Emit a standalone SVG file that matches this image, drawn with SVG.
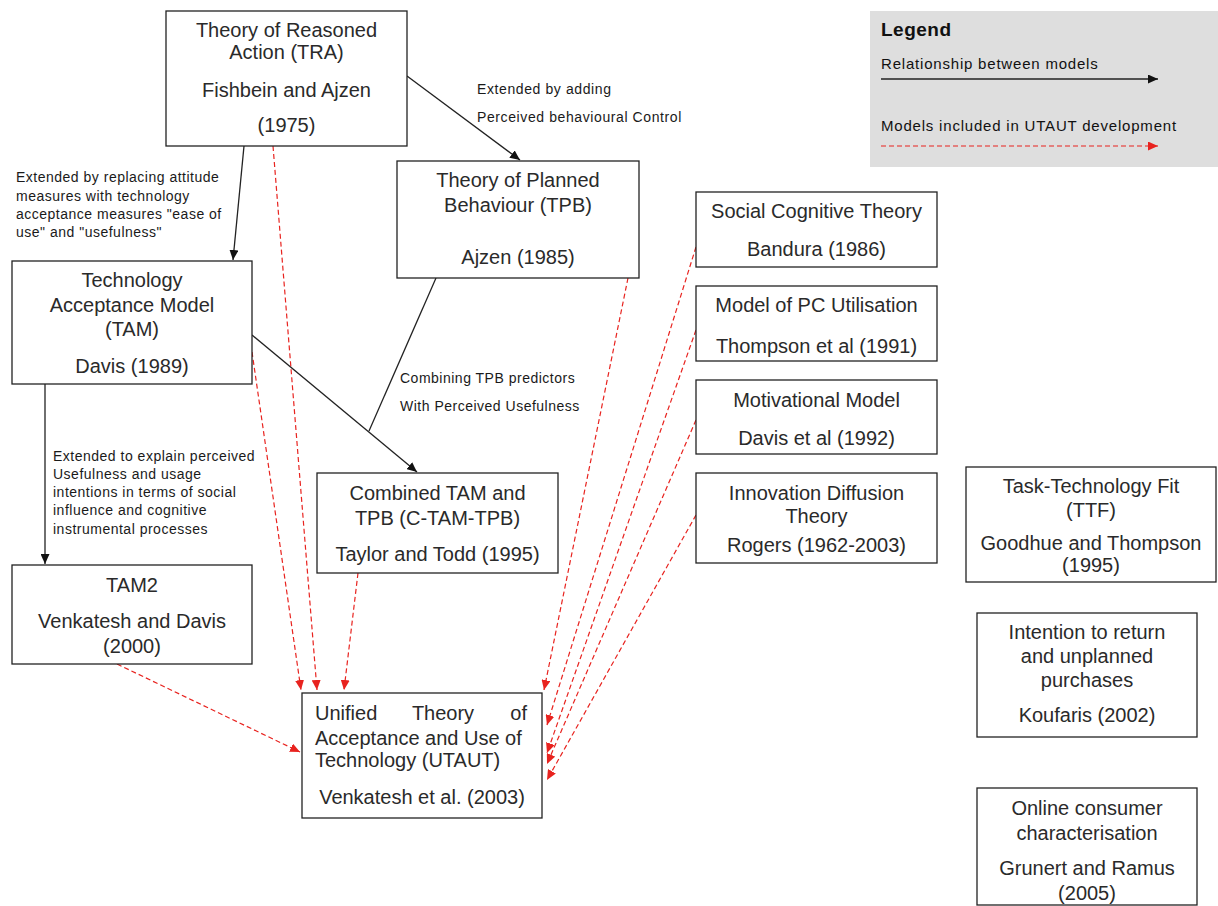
<svg xmlns="http://www.w3.org/2000/svg" width="1218" height="906" viewBox="0 0 1218 906">
<style>
.box{fill:#fff;stroke:#222;stroke-width:1.3}
.t{font-family:"Liberation Sans",Arial,sans-serif;font-size:20px;fill:#2a2a2a;text-anchor:middle}
.l{font-family:"Liberation Sans",Arial,sans-serif;font-size:14px;fill:#1a1a1a;letter-spacing:0.5px}
.lg{font-family:"Liberation Sans",Arial,sans-serif;font-size:15px;fill:#111;letter-spacing:0.8px}
.blk{stroke:#222;stroke-width:1.3;fill:none}
.red{stroke:#e8231f;stroke-width:1.2;fill:none;stroke-dasharray:5 3}
</style>
<defs>
<marker id="ab" markerUnits="userSpaceOnUse" markerWidth="11" markerHeight="9" refX="10" refY="4.5" orient="auto"><path d="M0,0 L10,4.5 L0,9 z" fill="#111"/></marker>
<marker id="ar" markerUnits="userSpaceOnUse" markerWidth="11" markerHeight="9" refX="10" refY="4.5" orient="auto"><path d="M0,0 L10,4.5 L0,9 z" fill="#e8231f"/></marker>
</defs>
<rect width="1218" height="906" fill="#fff"/>

<g id="legend">
<rect x="870" y="11" width="348" height="156" fill="#dedede"/>
<text x="881" y="36" style="font-family:'Liberation Sans',Arial,sans-serif;font-size:19px;font-weight:bold;fill:#111;letter-spacing:0.5px">Legend</text>
<text class="lg" x="881" y="69">Relationship between models</text>
<line class="blk" x1="881" y1="79" x2="1158" y2="79" marker-end="url(#ab)"/>
<text class="lg" x="881" y="131">Models included in UTAUT development</text>
<line class="red" x1="881" y1="146" x2="1158" y2="146" marker-end="url(#ar)"/>
</g>

<g id="connectors">
<line class="blk" x1="244" y1="146" x2="233" y2="260" marker-end="url(#ab)"/>
<line class="blk" x1="407" y1="76" x2="520" y2="160" marker-end="url(#ab)"/>
<line class="blk" x1="45" y1="384" x2="45" y2="564" marker-end="url(#ab)"/>
<line class="blk" x1="252" y1="335" x2="417" y2="472" marker-end="url(#ab)"/>
<line class="blk" x1="436" y1="278" x2="369" y2="431"/>
<line class="red" x1="252" y1="352" x2="301" y2="690" marker-end="url(#ar)"/>
<line class="red" x1="273" y1="146" x2="317" y2="690" marker-end="url(#ar)"/>
<line class="red" x1="358" y1="573" x2="344" y2="690" marker-end="url(#ar)"/>
<line class="red" x1="628" y1="278" x2="544" y2="690" marker-end="url(#ar)"/>
<line class="red" x1="696" y1="247" x2="547" y2="725" marker-end="url(#ar)"/>
<line class="red" x1="696" y1="330" x2="547" y2="753" marker-end="url(#ar)"/>
<line class="red" x1="696" y1="420" x2="547" y2="764" marker-end="url(#ar)"/>
<line class="red" x1="696" y1="515" x2="547" y2="780" marker-end="url(#ar)"/>
<line class="red" x1="117" y1="664" x2="300" y2="752" marker-end="url(#ar)"/>
<text class="l" x="477" y="94" style="letter-spacing:0.6px">Extended by adding</text>
<text class="l" x="477" y="122" style="letter-spacing:0.6px">Perceived behavioural Control</text>
<text class="l" x="16" y="182">Extended by replacing attitude</text>
<text class="l" x="16" y="201">measures with technology</text>
<text class="l" x="16" y="219">acceptance measures "ease of</text>
<text class="l" x="16" y="237">use" and "usefulness"</text>
<text class="l" x="53" y="461">Extended to explain perceived</text>
<text class="l" x="53" y="479">Usefulness and usage</text>
<text class="l" x="53" y="497">intentions in terms of social</text>
<text class="l" x="53" y="515">influence and cognitive</text>
<text class="l" x="53" y="534">instrumental processes</text>
<text class="l" x="400" y="383">Combining TPB predictors</text>
<text class="l" x="400" y="411">With Perceived Usefulness</text>
</g>

<g id="tra">
<rect class="box" x="166" y="11" width="241" height="135"/>
<text class="t" x="286.5" y="37">Theory of Reasoned</text>
<text class="t" x="286.5" y="59">Action (TRA)</text>
<text class="t" x="286.5" y="97">Fishbein and Ajzen</text>
<text class="t" x="286.5" y="132">(1975)</text>
</g>

<g id="tpb">
<rect class="box" x="397" y="161" width="242" height="117"/>
<text class="t" x="518" y="187">Theory of Planned</text>
<text class="t" x="518" y="212">Behaviour (TPB)</text>
<text class="t" x="518" y="264">Ajzen (1985)</text>
</g>

<g id="tam">
<rect class="box" x="12" y="261" width="240" height="123"/>
<text class="t" x="132" y="287">Technology</text>
<text class="t" x="132" y="312">Acceptance Model</text>
<text class="t" x="132" y="336">(TAM)</text>
<text class="t" x="132" y="373">Davis (1989)</text>
</g>

<g id="ctamtpb">
<rect class="box" x="317" y="473" width="241" height="100"/>
<text class="t" x="437.5" y="500">Combined TAM and</text>
<text class="t" x="437.5" y="525">TPB (C-TAM-TPB)</text>
<text class="t" x="437.5" y="561">Taylor and Todd (1995)</text>
</g>

<g id="tam2">
<rect class="box" x="12" y="565" width="240" height="99"/>
<text class="t" x="132" y="592">TAM2</text>
<text class="t" x="132" y="628">Venkatesh and Davis</text>
<text class="t" x="132" y="653">(2000)</text>
</g>

<g id="utaut">
<rect class="box" x="302" y="693" width="240" height="125"/>
<text class="t" x="315" y="720" style="text-anchor:start">Unified</text>
<text class="t" x="443" y="720">Theory</text>
<text class="t" x="527" y="720" style="text-anchor:end">of</text>
<text class="t" x="315" y="745" style="text-anchor:start">Acceptance and Use of</text>
<text class="t" x="315" y="767" style="text-anchor:start">Technology (UTAUT)</text>
<text class="t" x="422" y="804">Venkatesh et al. (2003)</text>
</g>

<g id="sct">
<rect class="box" x="696" y="192" width="241" height="75"/>
<text class="t" x="816.5" y="218">Social Cognitive Theory</text>
<text class="t" x="816.5" y="256">Bandura (1986)</text>
</g>

<g id="mpcu">
<rect class="box" x="696" y="286" width="241" height="75"/>
<text class="t" x="816.5" y="312">Model of PC Utilisation</text>
<text class="t" x="816.5" y="353">Thompson et al (1991)</text>
</g>

<g id="mm">
<rect class="box" x="696" y="380" width="241" height="74"/>
<text class="t" x="816.5" y="407">Motivational Model</text>
<text class="t" x="816.5" y="445">Davis et al (1992)</text>
</g>

<g id="idt">
<rect class="box" x="696" y="473" width="241" height="90"/>
<text class="t" x="816.5" y="500">Innovation Diffusion</text>
<text class="t" x="816.5" y="523">Theory</text>
<text class="t" x="816.5" y="552">Rogers (1962-2003)</text>
</g>

<g id="ttf">
<rect class="box" x="966" y="467" width="250" height="115"/>
<text class="t" x="1091" y="493">Task-Technology Fit</text>
<text class="t" x="1091" y="517">(TTF)</text>
<text class="t" x="1091" y="550">Goodhue and Thompson</text>
<text class="t" x="1091" y="572">(1995)</text>
</g>

<g id="koufaris">
<rect class="box" x="977" y="613" width="220" height="124"/>
<text class="t" x="1087" y="639">Intention to return</text>
<text class="t" x="1087" y="663">and unplanned</text>
<text class="t" x="1087" y="687">purchases</text>
<text class="t" x="1087" y="722">Koufaris (2002)</text>
</g>

<g id="grunert">
<rect class="box" x="977" y="788" width="220" height="117"/>
<text class="t" x="1087" y="815">Online consumer</text>
<text class="t" x="1087" y="840">characterisation</text>
<text class="t" x="1087" y="875">Grunert and Ramus</text>
<text class="t" x="1087" y="900">(2005)</text>
</g>
</svg>
